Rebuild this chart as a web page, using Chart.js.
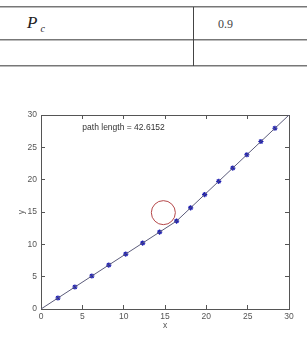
<!DOCTYPE html>
<html>
<head>
<meta charset="utf-8">
<script src="https://cdn.jsdelivr.net/npm/chart.js@4.4.1/dist/chart.umd.min.js"></script>
<style>
  body { margin: 0; background: #fff; width: 307px; height: 340px; overflow: hidden; position: relative; }
  #cap { position: absolute; left: 2px; top: -11px; font: 12px "Liberation Sans", sans-serif; color: #444; white-space: nowrap; }
  .hl { position: absolute; left: 0; width: 307px; height: 1px; background: #777; border-bottom: 1px solid #bbb; }
  .vl { position: absolute; left: 193px; top: 7px; width: 1px; height: 59px; background: #444; }
  #pc { position: absolute; left: 27px; top: 13px; font: italic 17px "Liberation Serif", serif; color: #222; }
  #pc sub { font-size: 10px; margin-left: 3px; }
  #val { position: absolute; left: 218px; top: 17px; font: 12px "Liberation Serif", serif; color: #444; }
  canvas { position: absolute; left: 0; top: 0; }
</style>
</head>
<body>
<div id="cap">Table 4. The case of one obstacle blocks the route</div>
<div class="hl" style="top:6px"></div>
<div class="hl" style="top:39px"></div>
<div class="hl" style="top:65px"></div>
<div class="vl"></div>
<div id="pc">P<sub>c</sub></div>
<div id="val">0.9</div>
<canvas id="plot" width="307" height="340"></canvas>
<script>
// waypoints found by the planner (blue stars)
const wayX = [2.05, 4.10, 6.15, 8.20, 10.25, 12.30, 14.35, 16.40, 18.10, 19.80, 21.50, 23.20, 24.90, 26.60, 28.30]
const wayY = [1.70, 3.40, 5.10, 6.80, 8.50, 10.20, 11.90, 13.60, 15.65, 17.70, 19.75, 21.80, 23.85, 25.90, 27.95]
// full path: start + waypoints + goal
const pathX = [0].concat(wayX, [30])
const pathY = [0].concat(wayY, [30])
// obstacle centre
const obstacleX = [14.8]
const obstacleY = [14.9]
const axisTicks = [0, 5, 10, 15, 20, 25, 30]
const pathLabel = 'path length = 42.6152'

const toPts = (xs, ys) => xs.map((x, i) => ({x: x, y: ys[i]}))

const tickFont = {family: 'Liberation Sans, Arial', size: 8.5}
const inGrid = {drawOnChartArea: false, drawTicks: true, tickLength: -4, color: '#555'}
const frame = {display: true, color: '#555', width: 1}

const labelPlugin = {
    id: 'pathLabel',
    afterDatasetsDraw(chart) {
        const c = chart.ctx
        c.save()
        c.font = '8.5px "Liberation Sans", Arial'
        c.fillStyle = '#333'
        c.textBaseline = 'middle'
        c.fillText(pathLabel, chart.scales.x.getPixelForValue(5), chart.scales.y.getPixelForValue(28))
        c.restore()
    }
}

new Chart(document.getElementById('plot').getContext('2d'), {
    type: 'scatter',
    data: {
        datasets: [{
            label: 'path',
            data: toPts(pathX, pathY),
            showLine: true,
            borderColor: '#5b5b7a',
            borderWidth: 1,
            pointRadius: 0
        }, {
            label: 'waypoints',
            data: toPts(wayX, wayY),
            pointStyle: 'star',
            pointRadius: 2.6,
            borderColor: '#1c1cb0',
            borderWidth: 1.2
        }, {
            label: 'obstacle',
            data: toPts(obstacleX, obstacleY),
            pointStyle: 'circle',
            pointRadius: 12,
            borderColor: '#b5484a',
            backgroundColor: 'rgba(0,0,0,0)',
            borderWidth: 1
        }]
    },
    options: {
        responsive: false,
        animation: false,
        layout: {padding: {left: 11, right: 18, top: 115, bottom: 0}},
        plugins: {legend: {display: false}, tooltip: {enabled: false}},
        scales: {
            x: {
                type: 'linear', position: 'bottom', min: 0, max: 30,
                afterBuildTicks: s => { s.ticks = axisTicks.map(v => ({value: v})) },
                afterFit: s => { s.height = 31 },
                ticks: {font: tickFont, color: '#555', padding: 7, maxRotation: 0},
                grid: inGrid, border: frame,
                title: {display: true, text: 'x', font: tickFont, color: '#555', padding: {top: 0, bottom: 9}}
            },
            y: {
                type: 'linear', position: 'left', min: 0, max: 30,
                afterBuildTicks: s => { s.ticks = axisTicks.map(v => ({value: v})) },
                afterFit: s => { s.width = 30 },
                ticks: {font: tickFont, color: '#555', padding: 8},
                grid: inGrid, border: frame,
                title: {display: true, text: 'y', font: tickFont, color: '#555', padding: {top: 6, bottom: 0}}
            },
            x2: {
                type: 'linear', axis: 'x', position: 'top', min: 0, max: 30,
                afterBuildTicks: s => { s.ticks = axisTicks.map(v => ({value: v})) },
                afterFit: s => { s.height = 0 },
                ticks: {display: false},
                grid: inGrid, border: frame
            },
            y2: {
                type: 'linear', axis: 'y', position: 'right', min: 0, max: 30,
                afterBuildTicks: s => { s.ticks = axisTicks.map(v => ({value: v})) },
                afterFit: s => { s.width = 0 },
                ticks: {display: false},
                grid: inGrid, border: frame
            }
        }
    },
    plugins: [labelPlugin]
})
</script>
</body>
</html>
